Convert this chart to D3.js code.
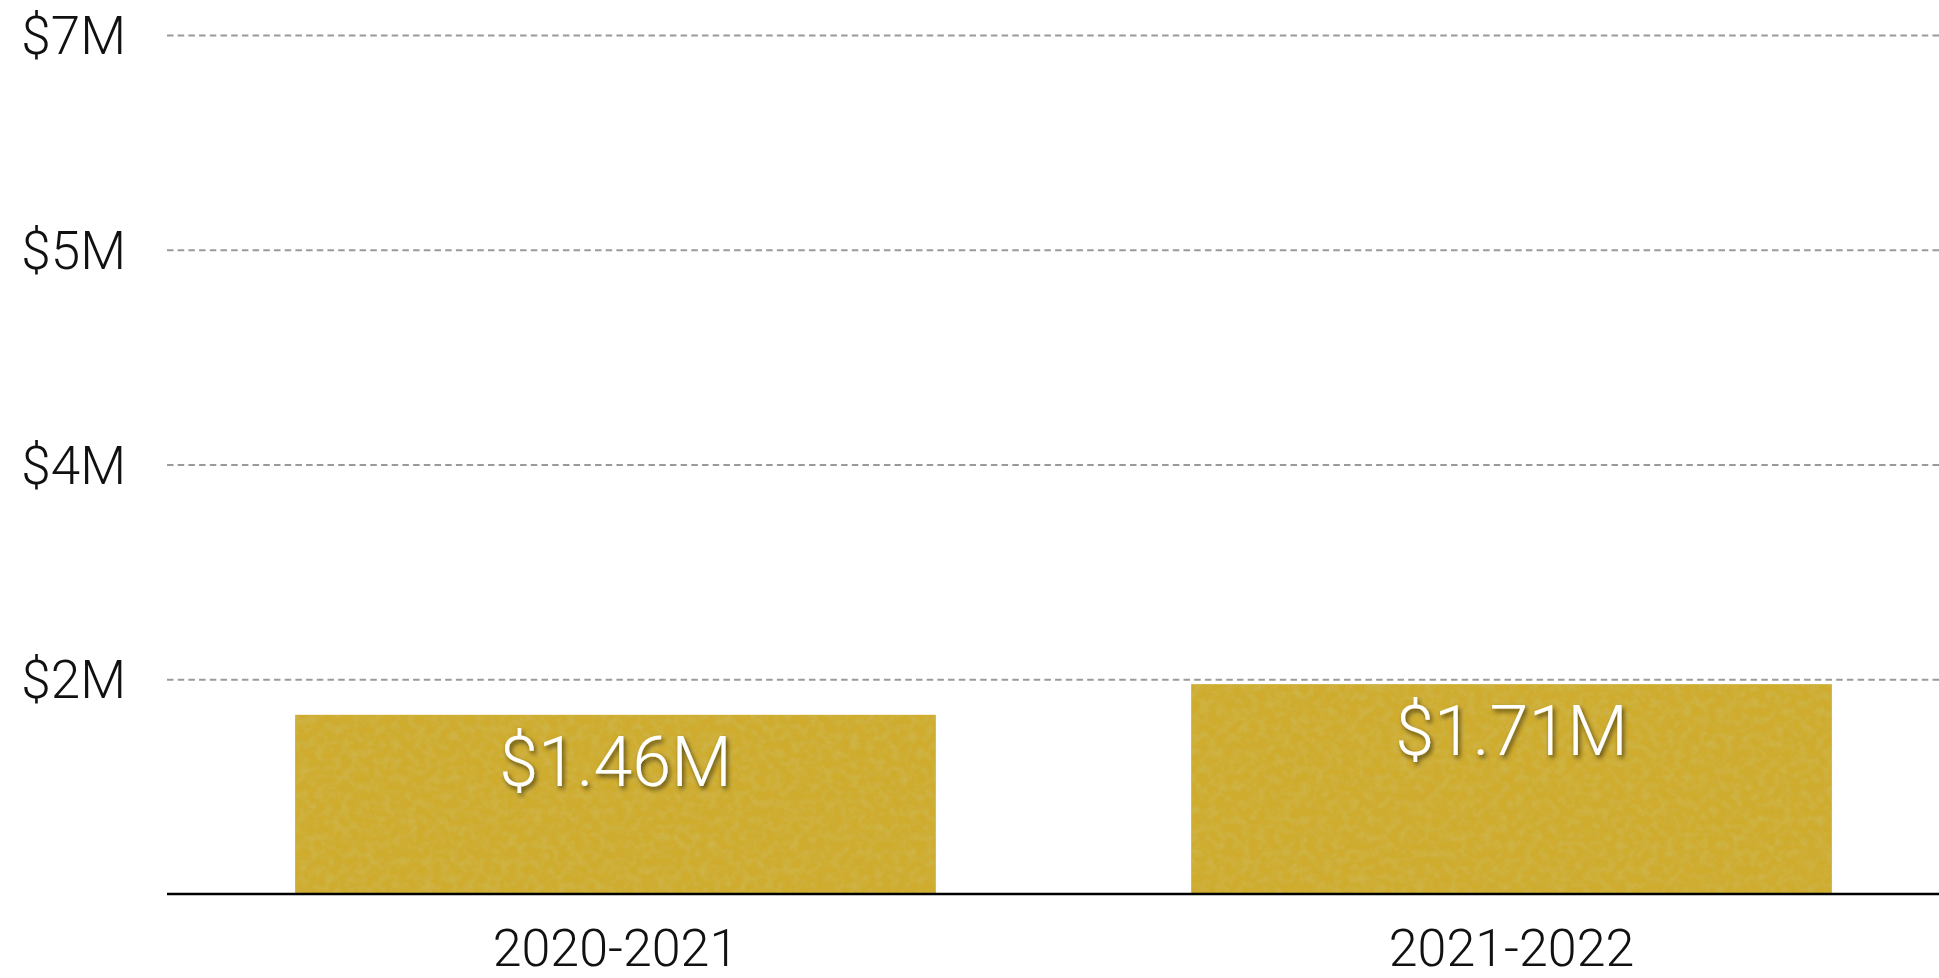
<!DOCTYPE html>
<html>
<head>
<meta charset="utf-8">
<script src="https://cdn.jsdelivr.net/npm/d3@7"></script>
<style>
  html, body { margin: 0; padding: 0; background: #fff; }
  svg { display: block; }
  text { font-family: Roboto, "Liberation Sans", sans-serif; font-weight: 300; }
</style>
</head>
<body>
<svg id="chart" width="1939" height="978"></svg>
<script>
// Fiscal-year totals, in millions of dollars
const categories = ["2020-2021", "2021-2022"];
const values = [1.46, 1.71];
const valueLabels = ["$1.46M", "$1.71M"];
// Gridline positions (millions) and their rounded labels
const tickValues = [1.75, 3.5, 5.25, 7];
const tickLabels = ["$2M", "$4M", "$5M", "$7M"];

const W = 1939, H = 978;
const plotLeft = 167, plotRight = 1960, baseY = 894, topY = 35;

const svg = d3.select("#chart");

const x = d3.scaleBand()
  .domain(categories)
  .range([plotLeft, plotRight])
  .paddingInner(0.285)
  .paddingOuter(0.143);

const y = d3.scaleLinear()
  .domain([0, 7])
  .range([baseY, topY]);

// Mottled paper grain for the bar fill
const defs = svg.append("defs");
const grain = defs.append("filter").attr("id", "grain")
  .attr("x", 0).attr("y", 0).attr("width", 1).attr("height", 1);
grain.append("feTurbulence").attr("type", "fractalNoise")
  .attr("baseFrequency", 0.12).attr("numOctaves", 3).attr("seed", 7).attr("result", "noise");
grain.append("feColorMatrix").attr("in", "noise").attr("type", "matrix")
  .attr("values", "0 0 0 0 0.62  0 0 0 0 0.50  0 0 0 0 0.10  1.1 0 0 0 -0.42")
  .attr("result", "tint");
grain.append("feComposite").attr("in", "tint").attr("in2", "SourceGraphic")
  .attr("operator", "in").attr("result", "grainIn");
const gm = grain.append("feMerge");
gm.append("feMergeNode").attr("in", "SourceGraphic");
gm.append("feMergeNode").attr("in", "grainIn");

const shadow = defs.append("filter").attr("id", "txtShadow")
  .attr("x", "-20%").attr("y", "-30%").attr("width", "140%").attr("height", "160%");
shadow.append("feDropShadow").attr("dx", 2).attr("dy", 3).attr("stdDeviation", 2.5)
  .attr("flood-color", "#000").attr("flood-opacity", 0.6);

// Y axis: dashed gridlines with labels on the left
const yAxis = d3.axisLeft(y)
  .tickValues(tickValues)
  .tickSize(-(W - plotLeft))
  .tickPadding(0)
  .tickFormat((d, i) => tickLabels[i]);

const gy = svg.append("g")
  .attr("transform", `translate(${plotLeft},0)`)
  .call(yAxis);
gy.select(".domain").remove();
gy.selectAll(".tick line")
  .attr("stroke", "#9a9a9a")
  .attr("stroke-width", 2)
  .attr("stroke-dasharray", "6.5,4.2");
gy.selectAll(".tick text")
  .attr("x", 126 - plotLeft)
  .attr("dy", "0.35em")
  .attr("text-anchor", "end")
  .attr("fill", "#111")
  .style("font-size", "53px");

// Bars
svg.append("g").selectAll("rect")
  .data(values)
  .join("rect")
  .attr("x", (d, i) => x(categories[i]))
  .attr("y", d => y(d))
  .attr("width", x.bandwidth())
  .attr("height", d => y(0) - y(d))
  .attr("fill", "#cfac2e")
  .attr("filter", "url(#grain)");

// Value labels inside bars
svg.append("g").selectAll("text")
  .data(values)
  .join("text")
  .attr("x", (d, i) => x(categories[i]) + x.bandwidth() / 2)
  .attr("y", d => y(d) + 71)
  .attr("text-anchor", "middle")
  .attr("fill", "#fff")
  .attr("filter", "url(#txtShadow)")
  .style("font-size", "70px")
  .text((d, i) => valueLabels[i]);

// X axis baseline and category labels
const xAxis = d3.axisBottom(x).tickSize(0).tickPadding(0);
const gx = svg.append("g")
  .attr("transform", `translate(0,${baseY})`)
  .call(xAxis);
gx.select(".domain")
  .attr("d", `M${plotLeft},0H${W}`)
  .attr("stroke", "#000")
  .attr("stroke-width", 2.5);
gx.selectAll(".tick text")
  .attr("y", 72)
  .attr("dy", 0)
  .attr("fill", "#111")
  .style("font-size", "52px");
</script>
</body>
</html>
